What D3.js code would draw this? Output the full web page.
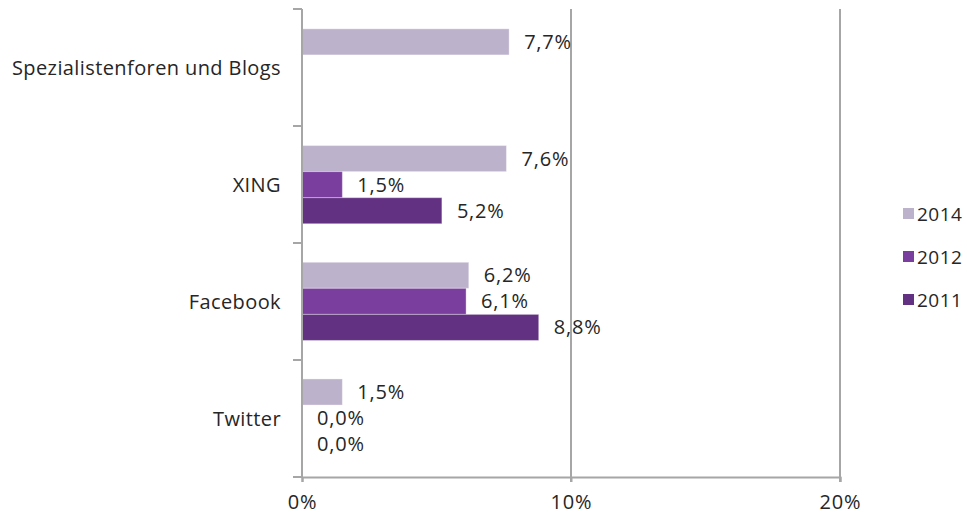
<!DOCTYPE html>
<html>
<head>
<meta charset="utf-8">
<script src="https://cdn.jsdelivr.net/npm/d3@7"></script>
<style>
	body { margin: 0; background: #fff; }
	text { font-family: "Open Sans", sans-serif; fill: #262626; }
</style>
</head>
<body>
<svg id="chart" width="967" height="518"></svg>
<script>
"use strict";

// data
const categories = ["Spezialistenforen und Blogs", "XING", "Facebook", "Twitter"];
const years = ["2014", "2012", "2011"];
const values2014 = [7.7, 7.6, 6.2, 1.5];
const values2012 = [null, 1.5, 6.1, 0.0];
const values2011 = [null, 5.2, 8.8, 0.0];
const xTicks = [0, 10, 20];

const colors = { "2014": "#bdb2cc", "2012": "#7a3e9f", "2011": "#633182" };

const margin = { left: 302, top: 9, right: 127, bottom: 41 };
const width = 967 - margin.left - margin.right;
const height = 518 - margin.top - margin.bottom;
const fontSize = 20;

const svg = d3.select("#chart");
const g = svg.append("g").attr("transform", `translate(${margin.left},${margin.top})`);

const x = d3.scaleLinear().domain([0, 20]).range([0, 538]);
const y = d3.scaleBand().domain(categories).range([0, height]).paddingInner(0.33).paddingOuter(0.17);
const yInner = d3.scaleBand().domain(years).range([0, y.bandwidth()]);
const yEdges = d3.scaleLinear().domain([0, categories.length]).range([0, height]);

const fmt = v => v.toFixed(1).replace(".", ",") + "%";

// gridlines
g.selectAll(".grid")
	.data(xTicks.slice(1))
	.enter()
	.append("line")
	.attr("x1", d => x(d)).attr("x2", d => x(d))
	.attr("y1", 0).attr("y2", height + 5)
	.attr("stroke", "#a6a6a6").attr("stroke-width", 2);

// bars
const rows = categories.map((c, i) => ({
	cat: c,
	vals: [
		{ year: "2014", v: values2014[i] },
		{ year: "2012", v: values2012[i] },
		{ year: "2011", v: values2011[i] }
	].filter(d => d.v !== null)
}));

const groups = g.selectAll(".cat")
	.data(rows)
	.enter()
	.append("g")
	.attr("transform", d => `translate(0,${y(d.cat)})`);

groups.selectAll("rect")
	.data(d => d.vals)
	.enter()
	.append("rect")
	.attr("x", 0)
	.attr("y", d => yInner(d.year))
	.attr("width", d => x(d.v))
	.attr("height", yInner.bandwidth())
	.attr("fill", d => colors[d.year])
	.attr("stroke", "#fff")
	.attr("stroke-opacity", 0.35)
	.attr("stroke-width", 1);

groups.selectAll(".val")
	.data(d => d.vals)
	.enter()
	.append("text")
	.attr("x", d => x(d.v) + 15)
	.attr("y", d => yInner(d.year) + yInner.bandwidth() / 2)
	.attr("dy", "0.35em")
	.attr("font-size", fontSize)
	.attr("letter-spacing", 0.8)
	.text(d => fmt(d.v));

// left axis line with ticks at category edges
g.append("line")
	.attr("x1", 0).attr("x2", 0)
	.attr("y1", 0).attr("y2", height)
	.attr("stroke", "#a6a6a6").attr("stroke-width", 2);
g.selectAll(".ytick")
	.data(d3.range(categories.length + 1))
	.enter()
	.append("line")
	.attr("x1", -9).attr("x2", 0)
	.attr("y1", d => yEdges(d)).attr("y2", d => yEdges(d))
	.attr("stroke", "#a6a6a6").attr("stroke-width", 2);

// category labels
g.selectAll(".cl")
	.data(categories)
	.enter()
	.append("text")
	.attr("x", -21)
	.attr("y", d => yEdges(categories.indexOf(d)) + yEdges(1) / 2)
	.attr("dy", "0.35em")
	.attr("text-anchor", "end")
	.attr("font-size", fontSize)
	.attr("letter-spacing", 0.4)
	.text(d => d);

// bottom axis
const xAxis = g.append("g")
	.attr("transform", `translate(0,${height})`)
	.call(d3.axisBottom(x).tickValues(xTicks).tickSize(5).tickFormat(d => d + "%"));
xAxis.select(".domain").attr("stroke", "#a6a6a6").attr("stroke-width", 2);
xAxis.selectAll(".tick line").attr("stroke", "#a6a6a6").attr("stroke-width", 2);
xAxis.selectAll(".tick text")
	.attr("font-size", fontSize)
	.attr("letter-spacing", 0.8)
	.attr("fill", "#262626")
	.attr("y", 18)
	.style("font-family", "'Open Sans', sans-serif");

// legend
const legend = svg.append("g").attr("transform", "translate(903,214)");
const li = legend.selectAll("g")
	.data(years)
	.enter()
	.append("g")
	.attr("transform", (d, i) => `translate(0,${i * 43})`);
li.append("rect")
	.attr("x", 0).attr("y", -6)
	.attr("width", 11).attr("height", 11)
	.attr("fill", d => colors[d]);
li.append("text")
	.attr("x", 14)
	.attr("dy", "0.35em")
	.attr("font-size", 19)
	.attr("letter-spacing", 0.5)
	.text(d => d);
</script>
</body>
</html>
